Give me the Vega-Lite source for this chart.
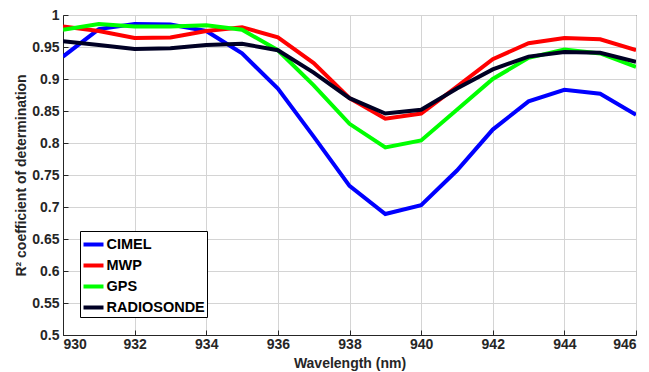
{
  "$schema": "https://vega.github.io/schema/vega-lite/v6.json",
  "width": 573,
  "height": 320,
  "autosize": "none",
  "padding": {"left": 63, "top": 15, "right": 13, "bottom": 37},
  "background": "white",
  "config": {
    "view": {"stroke": "#262626", "strokeWidth": 1},
    "font": "Liberation Sans",
    "axis": {
      "labelFont": "Liberation Sans",
      "labelFontWeight": "bold",
      "labelFontSize": 14,
      "labelColor": "#262626",
      "titleFont": "Liberation Sans",
      "titleFontWeight": "bold",
      "titleFontSize": 14,
      "titleColor": "#262626",
      "domainColor": "#262626",
      "tickColor": "#262626",
      "gridColor": "#d4d4d4",
      "gridWidth": 1
    }
  },
  "data": {"values": [
    {"w":930,"s":"CIMEL","r":0.935},{"w":931,"s":"CIMEL","r":0.978},{"w":932,"s":"CIMEL","r":0.986},{"w":933,"s":"CIMEL","r":0.985},{"w":934,"s":"CIMEL","r":0.975},{"w":935,"s":"CIMEL","r":0.94},{"w":936,"s":"CIMEL","r":0.885},{"w":937,"s":"CIMEL","r":0.81},{"w":938,"s":"CIMEL","r":0.733},{"w":939,"s":"CIMEL","r":0.689},{"w":940,"s":"CIMEL","r":0.703},{"w":941,"s":"CIMEL","r":0.757},{"w":942,"s":"CIMEL","r":0.821},{"w":943,"s":"CIMEL","r":0.865},{"w":944,"s":"CIMEL","r":0.883},{"w":945,"s":"CIMEL","r":0.877},{"w":946,"s":"CIMEL","r":0.844},
    {"w":930,"s":"MWP","r":0.982},{"w":931,"s":"MWP","r":0.975},{"w":932,"s":"MWP","r":0.964},{"w":933,"s":"MWP","r":0.965},{"w":934,"s":"MWP","r":0.975},{"w":935,"s":"MWP","r":0.981},{"w":936,"s":"MWP","r":0.965},{"w":937,"s":"MWP","r":0.925},{"w":938,"s":"MWP","r":0.87},{"w":939,"s":"MWP","r":0.838},{"w":940,"s":"MWP","r":0.846},{"w":941,"s":"MWP","r":0.888},{"w":942,"s":"MWP","r":0.931},{"w":943,"s":"MWP","r":0.956},{"w":944,"s":"MWP","r":0.964},{"w":945,"s":"MWP","r":0.962},{"w":946,"s":"MWP","r":0.945},
    {"w":930,"s":"GPS","r":0.977},{"w":931,"s":"GPS","r":0.986},{"w":932,"s":"GPS","r":0.982},{"w":933,"s":"GPS","r":0.982},{"w":934,"s":"GPS","r":0.984},{"w":935,"s":"GPS","r":0.977},{"w":936,"s":"GPS","r":0.945},{"w":937,"s":"GPS","r":0.89},{"w":938,"s":"GPS","r":0.83},{"w":939,"s":"GPS","r":0.793},{"w":940,"s":"GPS","r":0.804},{"w":941,"s":"GPS","r":0.852},{"w":942,"s":"GPS","r":0.9},{"w":943,"s":"GPS","r":0.933},{"w":944,"s":"GPS","r":0.946},{"w":945,"s":"GPS","r":0.94},{"w":946,"s":"GPS","r":0.919},
    {"w":930,"s":"RADIOSONDE","r":0.959},{"w":931,"s":"RADIOSONDE","r":0.953},{"w":932,"s":"RADIOSONDE","r":0.947},{"w":933,"s":"RADIOSONDE","r":0.948},{"w":934,"s":"RADIOSONDE","r":0.953},{"w":935,"s":"RADIOSONDE","r":0.955},{"w":936,"s":"RADIOSONDE","r":0.945},{"w":937,"s":"RADIOSONDE","r":0.91},{"w":938,"s":"RADIOSONDE","r":0.87},{"w":939,"s":"RADIOSONDE","r":0.846},{"w":940,"s":"RADIOSONDE","r":0.852},{"w":941,"s":"RADIOSONDE","r":0.885},{"w":942,"s":"RADIOSONDE","r":0.915},{"w":943,"s":"RADIOSONDE","r":0.935},{"w":944,"s":"RADIOSONDE","r":0.942},{"w":945,"s":"RADIOSONDE","r":0.941},{"w":946,"s":"RADIOSONDE","r":0.927}
  ]},
  "mark": {"type": "line", "strokeWidth": 4, "strokeJoin": "miter", "clip": true},
  "encoding": {
    "x": {
      "field": "w", "type": "quantitative",
      "scale": {"domain": [930, 946], "nice": false, "zero": false},
      "axis": {"values": [930,932,934,936,938,940,942,944,946], "format": "d", "title": "Wavelength (nm)", "tickSize": -5, "labelPadding": 7, "titlePadding": 5}
    },
    "y": {
      "field": "r", "type": "quantitative",
      "scale": {"domain": [0.5, 1], "nice": false, "zero": false},
      "axis": {"values": [0.5,0.55,0.6,0.65,0.7,0.75,0.8,0.85,0.9,0.95,1], "format": ".2~f", "title": "R² coefficient of determination", "tickSize": -5, "labelPadding": 9, "titlePadding": 3}
    },
    "color": {
      "field": "s", "type": "nominal",
      "scale": {"domain": ["CIMEL","MWP","GPS","RADIOSONDE"], "range": ["#0000ff","#ff0000","#00ff00","#000024"]},
      "legend": {
        "title": null, "orient": "none", "legendX": 17, "legendY": 216,
        "symbolType": "stroke", "symbolSize": 400, "symbolStrokeWidth": 4,
        "labelFont": "Liberation Sans", "labelFontWeight": "bold", "labelFontSize": 14.5, "labelColor": "#000000",
        "labelOffset": 1, "rowPadding": 1, "padding": 1.5,
        "strokeColor": "#000000", "fillColor": "white", "cornerRadius": 0
      }
    }
  }
}
